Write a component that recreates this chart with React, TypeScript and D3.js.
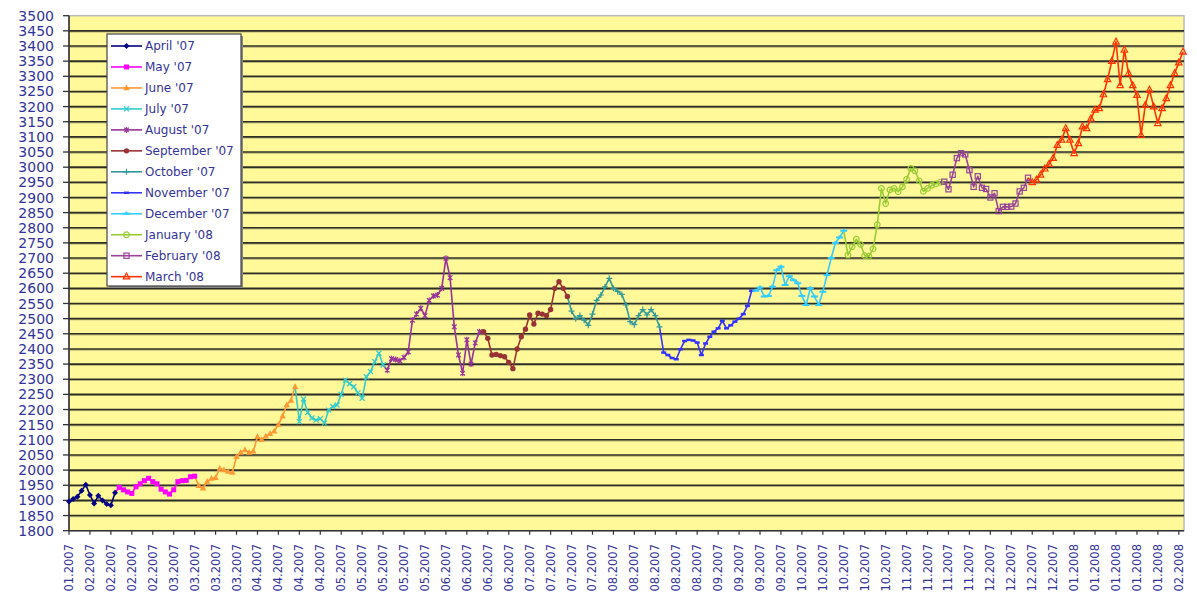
import React from 'react';
import * as d3 from 'd3';

const seriesNames = ["April '07", "May '07", "June '07", "July '07", "August '07", "September '07", "October '07", "November '07", "December '07", "January '08", "February '08", "March '08"];
const seriesColors = ['#000080', '#FF00FF', '#FF9933', '#33CCCC', '#993399', '#993333', '#339999', '#3333FF', '#33CCFF', '#99CC33', '#994499', '#FF3300'];
const seriesMarkers = ['diamond', 'square', 'triangle', 'x', 'star', 'circle', 'plus', 'dash', 'bar', 'ocircle', 'osquare', 'otriangle'];

const apr07 = [1896, 1905, 1912, 1932, 1952, 1918, 1890, 1915, 1900, 1888, 1884, 1925];
const may07 = [1943, 1935, 1928, 1923, 1945, 1955, 1965, 1973, 1962, 1955, 1937, 1928, 1921, 1935, 1962, 1965, 1966, 1978, 1980];
const jun07 = [1948, 1940, 1962, 1972, 1975, 2005, 2000, 1995, 1992, 2044, 2058, 2066, 2058, 2062, 2110, 2100, 2112, 2120, 2128, 2150, 2178, 2215, 2230, 2275];
const jul07 = [2160, 2235, 2190, 2172, 2165, 2170, 2155, 2198, 2210, 2215, 2250, 2297, 2285, 2275, 2255, 2237, 2308, 2325, 2358, 2386, 2347];
const aug07 = [2330, 2368, 2365, 2361, 2372, 2390, 2495, 2515, 2534, 2510, 2560, 2575, 2578, 2600, 2699, 2635, 2473, 2380, 2320, 2430, 2350, 2420, 2457];
const sep07 = [2457, 2435, 2380, 2382, 2378, 2374, 2355, 2335, 2400, 2440, 2465, 2512, 2482, 2518, 2515, 2510, 2530, 2600, 2622, 2600, 2573];
const oct07 = [2525, 2500, 2510, 2495, 2478, 2515, 2560, 2578, 2605, 2633, 2600, 2590, 2580, 2545, 2490, 2480, 2510, 2530, 2512, 2530, 2510, 2473];
const nov07 = [2388, 2380, 2370, 2366, 2399, 2426, 2430, 2428, 2421, 2380, 2418, 2440, 2457, 2468, 2493, 2468, 2478, 2490, 2500, 2515, 2542, 2592];
const dec07 = [2592, 2603, 2573, 2575, 2605, 2660, 2671, 2611, 2640, 2627, 2617, 2575, 2545, 2600, 2573, 2545, 2589, 2644, 2700, 2750, 2768, 2790];
const jan08 = [2710, 2737, 2762, 2745, 2708, 2706, 2730, 2810, 2930, 2880, 2925, 2930, 2919, 2935, 2960, 2996, 2988, 2955, 2920, 2930, 2940, 2945, 2950];
const feb08 = [2952, 2927, 2975, 3030, 3046, 3042, 2990, 2935, 2970, 2932, 2928, 2900, 2914, 2855, 2869, 2869, 2870, 2880, 2920, 2932, 2965];
const mar08 = [2950, 2958, 2975, 2995, 3010, 3030, 3073, 3090, 3128, 3090, 3046, 3079, 3134, 3128, 3160, 3189, 3194, 3240, 3290, 3350, 3414, 3270, 3387, 3310, 3270, 3238, 3106, 3205, 3255, 3200, 3145, 3194, 3227, 3270, 3310, 3345, 3381];

const seriesValues = [apr07, may07, jun07, jul07, aug07, sep07, oct07, nov07, dec07, jan08, feb08, mar08];

const yTickValues = [1800, 1850, 1900, 1950, 2000, 2050, 2100, 2150, 2200, 2250, 2300, 2350, 2400, 2450, 2500, 2550, 2600, 2650, 2700, 2750, 2800, 2850, 2900, 2950, 3000, 3050, 3100, 3150, 3200, 3250, 3300, 3350, 3400, 3450, 3500];

const xTickLabels = ["01.2007", "02.2007", "02.2007", "02.2007", "02.2007", "03.2007", "03.2007", "03.2007", "03.2007", "04.2007", "04.2007", "04.2007", "04.2007", "05.2007", "05.2007", "05.2007", "05.2007", "05.2007", "06.2007", "06.2007", "06.2007", "06.2007", "07.2007", "07.2007", "07.2007", "07.2007", "08.2007", "08.2007", "08.2007", "08.2007", "08.2007", "09.2007", "09.2007", "09.2007", "09.2007", "10.2007", "10.2007", "10.2007", "10.2007", "10.2007", "11.2007", "11.2007", "11.2007", "11.2007", "12.2007", "12.2007", "12.2007", "12.2007", "01.2008", "01.2008", "01.2008", "01.2008", "01.2008", "02.2008"];
const xTickEvery = 5;

const TEXT = '#333399';
const FONT = "'DejaVu Sans', Verdana, sans-serif";

function Marker({ type, color, cx, cy }: { type: string; color: string; cx: number; cy: number }) {
  const t = `translate(${cx},${cy})`;
  switch (type) {
    case 'diamond':
      return <path transform={t} d="M0,-3L3,0L0,3L-3,0Z" fill={color} />;
    case 'square':
      return <rect transform={t} x={-2.5} y={-2.5} width={5} height={5} fill={color} />;
    case 'triangle':
      return <path transform={t} d="M0,-3.5L3.2,2.2L-3.2,2.2Z" fill={color} />;
    case 'x':
      return <path transform={t} d="M-2.5,-2.5L2.5,2.5M-2.5,2.5L2.5,-2.5" stroke={color} strokeWidth={1.3} fill="none" />;
    case 'star':
      return <path transform={t} d="M-2.3,-2.3L2.3,2.3M-2.3,2.3L2.3,-2.3M0,-3L0,3" stroke={color} strokeWidth={1.2} fill="none" />;
    case 'circle':
      return <circle transform={t} r={2.7} fill={color} />;
    case 'plus':
      return <path transform={t} d="M-3,0L3,0M0,-3L0,3" stroke={color} strokeWidth={1.2} fill="none" />;
    case 'dash':
      return <path transform={t} d="M-2.5,0L2.5,0" stroke={color} strokeWidth={2.5} fill="none" />;
    case 'bar':
      return <path transform={t} d="M-3.5,0L3.5,0M0,0L0,-2" stroke={color} strokeWidth={2} fill="none" />;
    case 'ocircle':
      return <circle transform={t} r={2.8} fill="none" stroke={color} strokeWidth={1.2} />;
    case 'osquare':
      return <rect transform={t} x={-2.6} y={-2.6} width={5.2} height={5.2} fill="none" stroke={color} strokeWidth={1.2} />;
    case 'otriangle':
      return <path transform={t} d="M0,-3.6L3.2,2.3L-3.2,2.3Z" fill="none" stroke={color} strokeWidth={1.2} />;
    default:
      return null;
  }
}

export default function App() {
  const W = 1197, H = 597;
  const plotLeft = 69, plotRight = 1184, plotTop = 15.7, plotBottom = 530.7;
  const total = seriesValues.reduce((s, a) => s + a.length, 0);

  const x = d3.scaleLinear().domain([0, total - 1]).range([69, 1183]);
  const y = d3.scaleLinear().domain([1800, 3500]).range([plotBottom, plotTop]);

  const line = d3.line<[number, number]>().x(d => x(d[0])).y(d => y(d[1]));

  let offset = 0;
  const series = seriesValues.map((vals, si) => {
    const pts: [number, number][] = vals.map((v, i) => [offset + i, v]);
    const prev = si > 0 ? seriesValues[si - 1] : null;
    const linePts: [number, number][] = prev ? [[offset - 1, prev[prev.length - 1]], ...pts] : pts;
    offset += vals.length;
    return { pts, linePts, color: seriesColors[si], marker: seriesMarkers[si], name: seriesNames[si] };
  });

  const legendX = 107, legendY = 34, legendW = 134, legendH = 252;

  return (
    <svg width={W} height={H} style={{ position: 'absolute', left: 0, top: 0, background: '#fff' }} fontFamily={FONT}>
      <rect x={0} y={0} width={W} height={H} fill="#fff" />
      <rect x={plotLeft} y={plotTop} width={plotRight - plotLeft} height={plotBottom - plotTop} fill="#FFF99A" stroke="#B8B8B8" strokeWidth={1.5} />
      {yTickValues.filter(v => v > 1800 && v < 3500).map(v => (
        <g key={'g' + v}>
          <line x1={plotLeft} x2={plotRight} y1={y(v) + 1.1} y2={y(v) + 1.1} stroke="#A8A470" strokeWidth={1} />
          <line x1={plotLeft} x2={plotRight} y1={y(v)} y2={y(v)} stroke="#2E2E24" strokeWidth={1.6} />
        </g>
      ))}
      <line x1={plotLeft} x2={plotLeft} y1={plotTop} y2={plotBottom} stroke="#333" strokeWidth={1.6} />
      <line x1={plotLeft} x2={plotRight} y1={plotBottom} y2={plotBottom} stroke="#333" strokeWidth={1.6} />
      {yTickValues.map(v => (
        <g key={'y' + v}>
          <line x1={63} x2={plotLeft} y1={y(v)} y2={y(v)} stroke="#333" strokeWidth={1.3} />
          <text x={54} y={y(v)} dy="0.36em" textAnchor="end" fontSize={14} fill={TEXT}>{v}</text>
        </g>
      ))}
      {xTickLabels.map((lab, k) => {
        const tx = x(k * xTickEvery);
        return (
          <g key={'x' + k}>
            <line x1={tx} x2={tx} y1={plotBottom} y2={plotBottom + 4} stroke="#333" strokeWidth={1.2} />
            <text transform={`translate(${tx + 4},${544}) rotate(-90)`} textAnchor="end" fontSize={11.5} fill={TEXT}>{lab}</text>
          </g>
        );
      })}
      {series.map((s, i) => (
        <path key={'l' + i} d={line(s.linePts) || ''} fill="none" stroke={s.color} strokeWidth={1.6} strokeLinejoin="round" />
      ))}
      {series.map((s, i) => (
        <g key={'m' + i}>
          {s.pts.map((p, j) => <Marker key={j} type={s.marker} color={s.color} cx={x(p[0])} cy={y(p[1])} />)}
        </g>
      ))}
      <rect x={legendX + 2} y={legendY + 2} width={legendW} height={legendH} fill="#888" />
      <rect x={legendX} y={legendY} width={legendW} height={legendH} fill="#fff" stroke="#444" strokeWidth={1.2} />
      {series.map((s, i) => {
        const cy = 46 + i * 20.97;
        return (
          <g key={'lg' + i}>
            <line x1={111} x2={142} y1={cy} y2={cy} stroke={s.color} strokeWidth={1.6} />
            <Marker type={s.marker} color={s.color} cx={126.5} cy={cy} />
            <text x={145} y={cy} dy="0.36em" fontSize={12} fill={TEXT}>{s.name}</text>
          </g>
        );
      })}
    </svg>
  );
}
